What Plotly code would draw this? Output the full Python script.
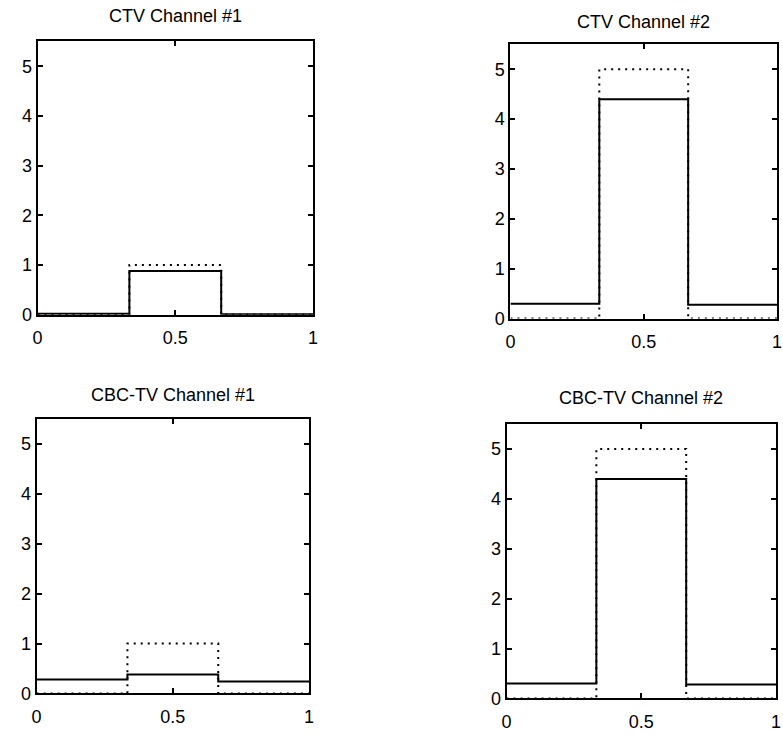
import plotly.graph_objects as go

W, H = 783, 736

titles = ["CTV Channel #1", "CTV Channel #2", "CBC-TV Channel #1", "CBC-TV Channel #2"]
x_steps = [0, 1/3, 2/3, 1]
ideal_1 = [0, 1, 0, 0]
ideal_2 = [0, 5, 0, 0]
ctv_1 = [0.02, 0.88, 0.01, 0.01]
ctv_2 = [0.30, 4.40, 0.28, 0.28]
cbc_1 = [0.28, 0.38, 0.24, 0.24]
cbc_2 = [0.30, 4.40, 0.28, 0.28]
y_ticks = [0, 1, 2, 3, 4, 5]
x_ticks = [0, 0.5, 1]
x_tick_text = ["0", "0.5", "1"]

# panel boxes in pixels: left, right, top, bottom
boxes = [(33, 312, 42, 319), (512, 782, 45, 323), (32, 308, 425, 703), (508, 781, 430, 708)]
title_y = [16, 22, 400, 403]
estimates = [ctv_1, ctv_2, cbc_1, cbc_2]
ideals = [ideal_1, ideal_2, ideal_1, ideal_2]

FONT = "Liberation Sans, Arial, Helvetica, sans-serif"
fig = go.Figure()
annotations = []
for i in range(4):
    l, r, t, b = boxes[i]
    xa = "x" if i == 0 else f"x{i+1}"
    ya = "y" if i == 0 else f"y{i+1}"
    fig.add_trace(go.Scatter(x=x_steps, y=ideals[i], mode="lines", line_shape="hv",
                             line=dict(color="black", width=2, dash="2px,5px"),
                             xaxis=xa, yaxis=ya, showlegend=False))
    fig.add_trace(go.Scatter(x=x_steps, y=estimates[i], mode="lines", line_shape="hv",
                             line=dict(color="black", width=2),
                             xaxis=xa, yaxis=ya, showlegend=False))
    axcommon = dict(showline=True, linecolor="black", linewidth=2, mirror="ticks",
                    ticks="inside", ticklen=5, tickwidth=1.5, tickcolor="black",
                    showgrid=False, zeroline=False, ticklabeloverflow="allow",
                    tickfont=dict(family=FONT, size=18, color="black"))
    xkey = "xaxis" if i == 0 else f"xaxis{i+1}"
    ykey = "yaxis" if i == 0 else f"yaxis{i+1}"
    fig.update_layout(**{
        xkey: dict(domain=[l / W, r / W], range=[0, 1], anchor=ya,
                   tickvals=x_ticks, ticktext=x_tick_text, ticklabelstandoff=6, **axcommon),
        ykey: dict(domain=[1 - b / H, 1 - t / H], range=[0, 5.5], anchor=xa,
                   tickvals=y_ticks, **axcommon),
    })
    annotations.append(dict(text=titles[i], xref="paper", yref="paper",
                            x=(l + r) / 2 / W, y=1 - title_y[i] / H,
                            xanchor="center", yanchor="middle", showarrow=False,
                            font=dict(family=FONT, size=18, color="black")))

fig.update_layout(width=W, height=H, margin=dict(l=0, r=0, t=0, b=0),
                  paper_bgcolor="white", plot_bgcolor="white",
                  annotations=annotations)
fig.write_html("out.html", config={"displayModeBar": False},
               post_script="document.body.style.margin='0';document.body.style.overflow='hidden';")
